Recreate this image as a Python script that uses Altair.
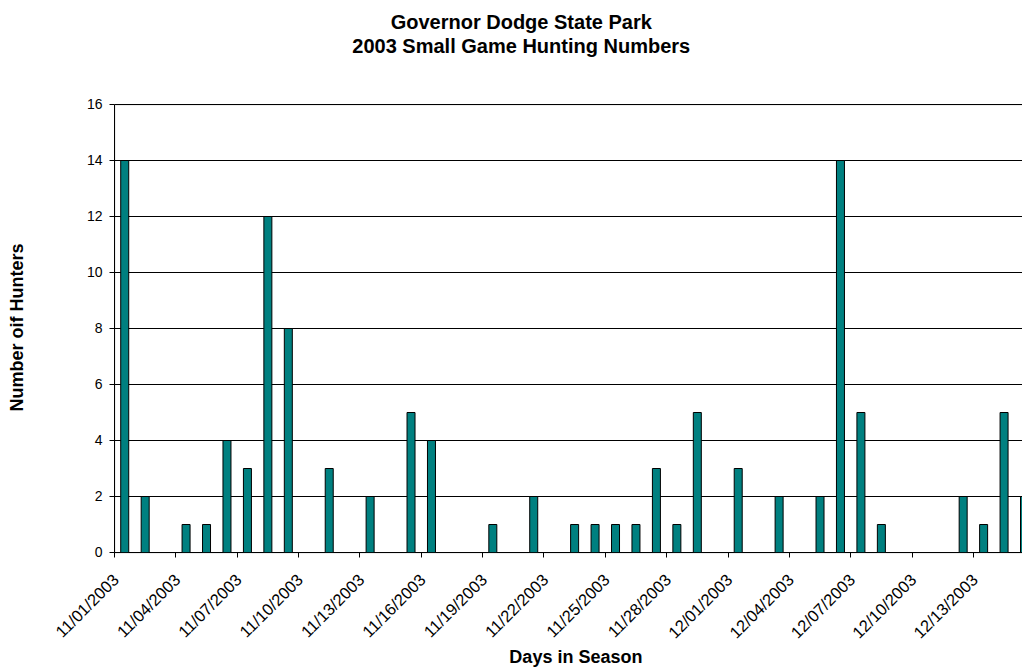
import altair as alt
import pandas as pd

# ---- data ----
dates = [
    "2003-11-01", "2003-11-02", "2003-11-03", "2003-11-04", "2003-11-05",
    "2003-11-06", "2003-11-07", "2003-11-08", "2003-11-09", "2003-11-10",
    "2003-11-11", "2003-11-12", "2003-11-13", "2003-11-14", "2003-11-15",
    "2003-11-16", "2003-11-17", "2003-11-18", "2003-11-19", "2003-11-20",
    "2003-11-21", "2003-11-22", "2003-11-23", "2003-11-24", "2003-11-25",
    "2003-11-26", "2003-11-27", "2003-11-28", "2003-11-29", "2003-11-30",
    "2003-12-01", "2003-12-02", "2003-12-03", "2003-12-04", "2003-12-05",
    "2003-12-06", "2003-12-07", "2003-12-08", "2003-12-09", "2003-12-10",
    "2003-12-11", "2003-12-12", "2003-12-13", "2003-12-14", "2003-12-15",
]
hunters = [
    14, 2, 0, 1, 1,
    4, 3, 12, 8, 0,
    3, 0, 2, 0, 5,
    4, 0, 0, 1, 0,
    2, 0, 1, 1, 1,
    1, 3, 1, 5, 0,
    3, 0, 2, 0, 2,
    14, 5, 1, 0, 0,
    0, 2, 1, 5, 2,
]
tick_dates = [
    "2003-11-01", "2003-11-04", "2003-11-07", "2003-11-10", "2003-11-13",
    "2003-11-16", "2003-11-19", "2003-11-22", "2003-11-25", "2003-11-28",
    "2003-12-01", "2003-12-04", "2003-12-07", "2003-12-10", "2003-12-13",
]
y_ticks = [0, 2, 4, 6, 8, 10, 12, 14, 16]
title_lines = ["Governor Dodge State Park", "2003 Small Game Hunting Numbers"]


def ms(s):
    """UTC timestamp in milliseconds (Vega's internal time unit)."""
    return int(pd.Timestamp(s, tz="UTC").value // 10**6)


# each date is parsed as an explicit UTC instant
df = pd.DataFrame({"date": [d + "T00:00:00Z" for d in dates], "hunters": hunters})

FONT = "Liberation Sans"
W = 907.5
H = 448

bars = (
    alt.Chart(df)
    .transform_filter("datum.hunters > 0")
    .mark_bar(color="#008080", stroke="#000000", strokeWidth=1, size=8, clip=True)
    .encode(
        x=alt.X(
            "date:T",
            scale=alt.Scale(
                type="utc",
                nice=False,
                padding=0,
                domain=[ms("2003-10-31T12:00:00"), ms("2003-12-14T21:03:00")],
            ),
            axis=alt.Axis(
                values=[ms(d) for d in tick_dates],
                labelExpr="utcFormat(datum.value, '%m/%d/%Y')",
                labelAngle=315,
                labelAlign="right",
                labelBaseline="middle",
                labelFontSize=16.5,
                labelFont=FONT,
                labelColor="#000000",
                labelOverlap=False,
                labelPadding=20,
                labelOffset=2,
                tickOffset=-10.2,
                tickSize=5,
                tickColor="#000000",
                domainColor="#000000",
                translate=0,
                grid=False,
                title="Days in Season",
                titleFont=FONT,
                titleFontSize=18,
                titleFontWeight="bold",
                titleColor="#000000",
                titleX=461.4,
                titleY=110.5,
                titleAlign="center",
                titleBaseline="alphabetic",
            ),
        ),
        y=alt.Y(
            "hunters:Q",
            scale=alt.Scale(domain=[0, 16], nice=False),
            axis=alt.Axis(
                values=y_ticks,
                grid=True,
                gridColor="#000000",
                gridWidth=1,
                tickSize=5,
                tickColor="#000000",
                domainColor="#000000",
                translate=0,
                labelFontSize=14,
                labelFont=FONT,
                labelColor="#000000",
                labelPadding=7,
                title="Number oif Hunters",
                titleFont=FONT,
                titleFontSize=18,
                titleFontWeight="bold",
                titleColor="#000000",
                titleX=-91.3,
                titleY=223,
                titleAlign="center",
                titleBaseline="alphabetic",
            ),
        ),
    )
)

chart = (
    bars.properties(
        width=W,
        height=H,
        autosize=alt.AutoSizeParams(type="none"),
        padding={"left": 106.5, "top": 96.5, "right": 0, "bottom": 115.5},
        title=alt.TitleParams(
            text=title_lines,
            font=FONT,
            fontSize=20,
            fontWeight="bold",
            color="#000000",
            anchor="middle",
            frame="group",
            dx=-47,
            offset=41,
            lineHeight=24,
        ),
    )
    .configure_view(stroke=None)
    .configure(background="white")
)

chart.save("out.html", embed_options={"renderer": "svg", "actions": False})
